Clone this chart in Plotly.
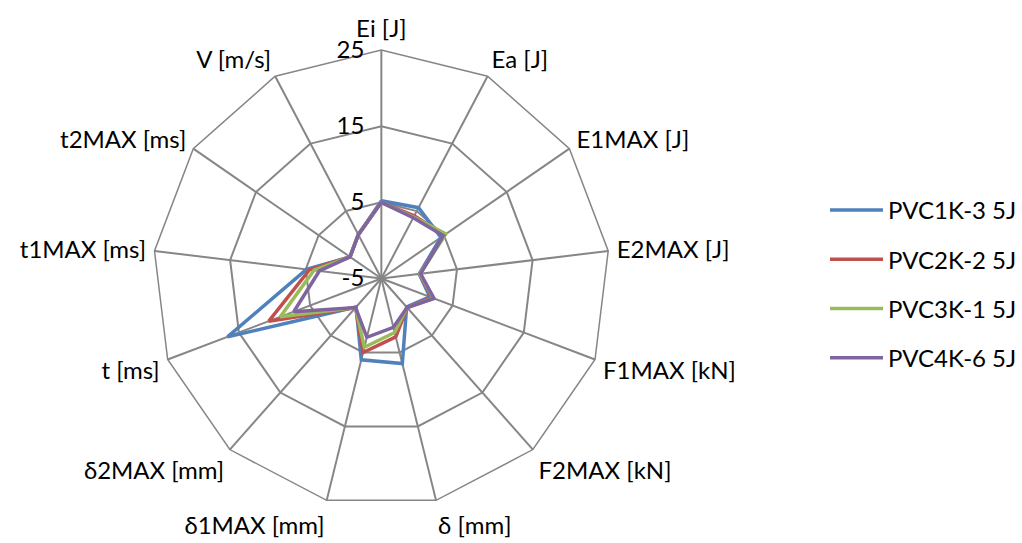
import plotly.graph_objects as go

categories = ["Ei [J]", "Ea [J]", "E1MAX [J]", "E2MAX [J]", "F1MAX [kN]", "F2MAX [kN]",
              "δ [mm]", "δ1MAX [mm]", "δ2MAX [mm]", "t [ms]", "t1MAX [ms]", "t2MAX [ms]", "V [m/s]"]

series_names = ["PVC1K-3 5J", "PVC2K-2 5J", "PVC3K-1 5J", "PVC4K-6 5J"]
pvc1k_3 = [5.2, 5.5, 4.5, 0.0, 1.8, 0.0, 6.5, 6.0, 0.0, 16.6, 4.9, 0.0, 1.5]
pvc2k_2 = [5.0, 4.3, 5.1, 0.1, 2.1, 0.1, 2.9, 5.0, 0.1, 10.8, 4.5, 0.0, 1.5]
pvc3k_1 = [5.0, 4.1, 5.3, 0.1, 2.3, 0.1, 2.3, 4.3, 0.1, 9.2, 3.9, 0.0, 1.5]
pvc4k_6 = [5.0, 4.0, 4.9, 0.2, 2.4, 0.1, 1.6, 2.95, 0.1, 7.3, 3.2, 0.0, 1.5]

radial_ticks = [-5, 5, 15, 25]
colors = ["#4F81BD", "#C0504D", "#9BBB59", "#8064A2"]

FONT = "Lato"
FS = 24
GRID = "#868686"

fig = go.Figure()
for name, vals, col in zip(series_names, [pvc1k_3, pvc2k_2, pvc3k_1, pvc4k_6], colors):
    fig.add_trace(go.Scatterpolar(
        r=vals + vals[:1],
        theta=categories + categories[:1],
        mode="lines",
        name=name,
        legendgroup=name,
        line=dict(color=col, width=3.5),
    ))

W, H = 1022, 543
cx, cy, R = 385.5, 278.5, 231.0
fig.update_layout(
    width=W, height=H,
    margin=dict(l=0, r=0, t=0, b=0),
    paper_bgcolor="white",
    plot_bgcolor="white",
    font=dict(family=FONT, size=FS, color="#000000"),
    polar=dict(
        domain=dict(x=[(cx - R) / W, (cx + R) / W],
                    y=[(H - (cy + R)) / H, (H - (cy - R)) / H]),
        bgcolor="white",
        gridshape="linear",
        angularaxis=dict(
            categoryorder="array", categoryarray=categories,
            direction="clockwise", rotation=90,
            showline=True, linecolor=GRID, linewidth=1.5,
            showgrid=True, gridcolor=GRID, gridwidth=1.5,
            ticks="outside", ticklen=3, tickcolor="rgba(0,0,0,0)",
            tickfont=dict(family=FONT, size=FS, color="#000000"),
        ),
        radialaxis=dict(
            range=[-5, 25], tickvals=radial_ticks, ticktext=[str(v) for v in radial_ticks],
            angle=90, tickangle=90, side="counterclockwise",
            showline=False, ticks="outside", ticklen=8, tickcolor="rgba(0,0,0,0)",
            showgrid=True, gridcolor=GRID, gridwidth=1.5,
            tickfont=dict(family=FONT, size=FS, color="#000000"),
        ),
    ),
    legend=dict(
        x=834 / W, y=(H - 284) / H, xanchor="left", yanchor="middle",
        font=dict(family=FONT, size=FS, color="#000000"),
        itemwidth=53, tracegroupgap=15,
        bgcolor="rgba(0,0,0,0)",
    ),
    showlegend=True,
)

fig.write_html(
    "out.html",
    config={"displayModeBar": False},
    post_script="document.documentElement.style.margin='0';document.body.style.margin='0';"
                "document.body.style.overflow='hidden';",
)
